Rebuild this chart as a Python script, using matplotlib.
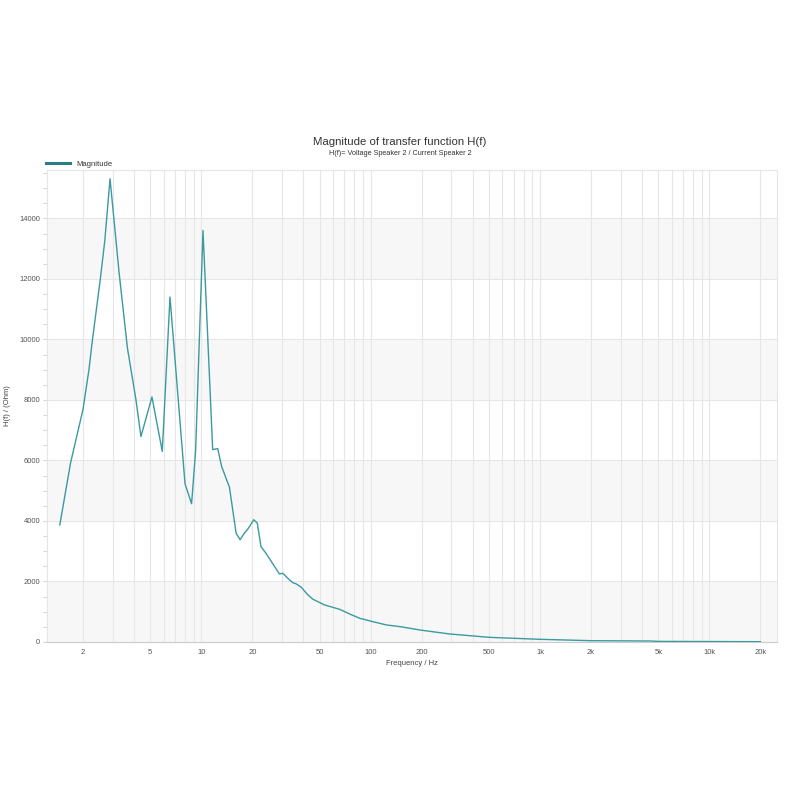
import matplotlib
matplotlib.use("Agg")
import matplotlib.pyplot as plt
from matplotlib.ticker import FixedLocator, NullFormatter, MultipleLocator
import numpy as np

plt.rcParams['font.family'] = ['Liberation Sans', 'DejaVu Sans']

freq_hz = [1.46, 1.69, 2.0, 2.17, 2.27, 2.53, 2.69, 2.89, 3.27, 3.66, 4.11, 4.40,
           5.11, 5.88, 6.53, 8.01, 8.76, 9.25, 10.23, 11.67, 12.5, 13.18, 14.65,
           16.04, 16.94, 17.96, 18.8, 20.4, 21.4, 22.5, 24.1, 28.9, 30.3, 33.2,
           34.7, 36.3, 38.9, 42.6, 45.6, 53.4, 65.6, 75.1, 86.1, 103, 124, 150,
           195, 293, 500, 1000, 2000, 4500, 5000, 10000, 20000]
magnitude_ohm = [3870, 5920, 7680, 9000, 9940, 11980, 13250, 15310, 12200, 9720, 8010, 6790,
                 8100, 6300, 11400, 5230, 4570, 6300, 13600, 6360, 6390, 5800, 5120,
                 3600, 3380, 3600, 3730, 4040, 3930, 3150, 2930, 2250, 2270, 2050,
                 1960, 1920, 1810, 1555, 1413, 1225, 1080, 927, 784, 672, 563, 506,
                 397, 265, 155, 89, 43, 33, 20, 15, 10]

title = "Magnitude of transfer function H(f)"
subtitle = "H(f)= Voltage Speaker 2 / Current Speaker 2"
x_major = [2, 5, 10, 20, 50, 100, 200, 500, 1000, 2000, 5000, 10000, 20000]
x_labels = ["2", "5", "10", "20", "50", "100", "200", "500", "1k", "2k", "5k", "10k", "20k"]

fig = plt.figure(figsize=(8, 8), dpi=100)
ax = fig.add_axes([0.059, 0.1975, 0.912, 0.59])

ax.set_xscale('log')
ax.set_xlim(1.23, 25000)
ax.set_ylim(0, 15600)

# alternating bands
for lo in range(0, 14000, 4000):
    ax.axhspan(lo, lo + 2000, color='#f7f7f7', zorder=0, lw=0)

# vertical grid at all minor positions
grid_x = [m * 10 ** e for e in range(0, 5) for m in range(1, 10) if 1.23 < m * 10 ** e < 25000]
for gx in grid_x:
    ax.axvline(gx, color='#e6e6e6', lw=0.8, zorder=0.5)
for gy in range(2000, 15000, 2000):
    ax.axhline(gy, color='#e6e6e6', lw=0.8, zorder=0.5)

ax.plot(freq_hz, magnitude_ohm, color='#3a9a9e', lw=1.0, zorder=3, label='Magnitude')

ax.xaxis.set_major_locator(FixedLocator(x_major))
ax.set_xticklabels(x_labels)
ax.xaxis.set_minor_locator(FixedLocator([]))
ax.xaxis.set_minor_formatter(NullFormatter())
ax.yaxis.set_major_locator(MultipleLocator(2000))
ax.yaxis.set_minor_locator(MultipleLocator(500))

ax.tick_params(axis='x', which='major', length=0, labelsize=5.5, colors='#555555', pad=5)
ax.tick_params(axis='y', which='major', length=3, width=0.6, color='#cccccc', labelsize=5.5, labelcolor='#555555', pad=2)
ax.tick_params(axis='y', which='minor', length=3, width=0.6, color='#cccccc')

for s in ['top', 'right', 'left']:
    ax.spines[s].set_color('#e6e6e6')
    ax.spines[s].set_linewidth(0.8)
ax.spines['bottom'].set_color('#cccccc')
ax.spines['bottom'].set_linewidth(0.8)

ax.set_xlabel('Frequency / Hz', fontsize=5.5, color='#444444', labelpad=3)
ax.set_ylabel('H(f) / (Ohm)', fontsize=5.5, color='#444444', labelpad=6)

fig.text(0.5, 0.823, title, ha='center', va='center', fontsize=8.2, color='#333333')
fig.text(0.5, 0.808, subtitle, ha='center', va='center', fontsize=5.2, color='#333333')

leg = ax.legend(loc='lower left', bbox_to_anchor=(-0.004, 1.002), frameon=False,
                fontsize=5.5, handlelength=3.2, handletextpad=0.8, borderaxespad=0.0,
                borderpad=0.2)
for line in leg.get_lines():
    line.set_linewidth(2.2)
    line.set_color('#2a7f86')
for t in leg.get_texts():
    t.set_color('#333333')

fig.savefig('out.png', dpi=100, facecolor='white')
